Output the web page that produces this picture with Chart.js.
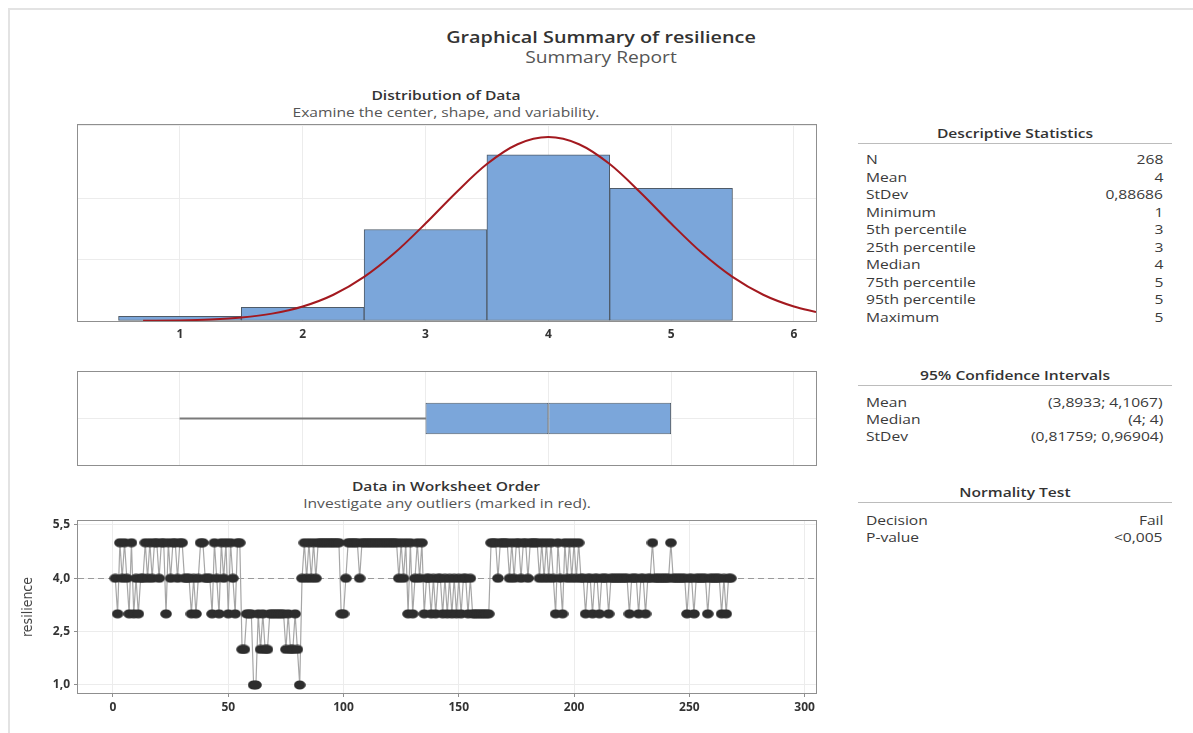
<!DOCTYPE html>
<html>
<head>
<meta charset="utf-8">
<script src="https://cdn.jsdelivr.net/npm/chart.js@4.4.0/dist/chart.umd.min.js"></script>
<style>
body { margin: 0; background: #fff; font-family: 'Open Sans', 'Noto Sans', sans-serif; color: #333; }
#page { position: relative; width: 1193px; height: 733px; overflow: hidden; background: #fff; }
.pageFrame { position: absolute; left: 8px; top: 8px; width: 1200px; height: 740px; border-left: 2px solid #e3e3e3; border-top: 2px solid #e3e3e3; }
.t { position: absolute; white-space: nowrap; transform: translate(-50%, -50%) scaleX(1.2); }
.box { position: absolute; left: 0; }
.tblHead { position: absolute; left: 858px; width: 314px; text-align: center; font-weight: 600; font-size: 13px; height: 18px; line-height: 18px; color: #333; transform: scaleX(1.2); }
.tblLine { position: absolute; left: 858px; width: 314px; border-top: 1px solid #bcbcbc; }
.tblRow { position: absolute; left: 866px; width: 297px; font-size: 13px; color: #3a3a3a; }
.tblRow span.l { display: inline-block; transform: scaleX(1.2); transform-origin: left center; }
.tblRow span.v { float: right; display: inline-block; transform: scaleX(1.2); transform-origin: right center; }
</style>
</head>
<body>
<div id="page">
	<div class="pageFrame"></div>

	<div class="t" style="left:601px;top:36px;font-size:16.5px;font-weight:600;color:#333;">Graphical Summary of resilience</div>
	<div class="t" style="left:601px;top:57px;font-size:16px;color:#555;">Summary Report</div>

	<div class="t" style="left:446px;top:95px;font-size:13px;font-weight:600;color:#333;">Distribution of Data</div>
	<div class="t" style="left:446px;top:112px;font-size:13px;color:#555;">Examine the center, shape, and variability.</div>

	<div class="t" style="left:446px;top:486px;font-size:13px;font-weight:600;color:#333;">Data in Worksheet Order</div>
	<div class="t" style="left:447px;top:503px;font-size:13px;color:#555;">Investigate any outliers (marked in red).</div>

	<div class="box" style="top:124px;"><canvas id="hist" width="822" height="219"></canvas></div>
	<div class="box" style="top:371px;"><canvas id="boxplot" width="822" height="95"></canvas></div>
	<div class="box" style="top:508px;"><canvas id="order" width="822" height="210"></canvas></div>

	<div id="tables"></div>
</div>

<script>
// values
var resilience = [
	4, 3, 5, 4, 5, 4, 3, 5, 3, 4,
	3, 4, 4, 5, 4, 5, 4, 5, 5, 4,
	5, 5, 3, 5, 4, 5, 5, 4, 5, 5,
	4, 4, 4, 3, 4, 3, 4, 5, 5, 4,
	4, 4, 3, 5, 4, 3, 5, 4, 5, 3,
	5, 4, 3, 5, 5, 2, 2, 3, 3, 3,
	1, 1, 3, 2, 3, 2, 2, 3, 3, 3,
	3, 3, 3, 3, 2, 3, 2, 2, 3, 2,
	1, 4, 5, 4, 5, 4, 5, 4, 5, 5,
	5, 5, 5, 5, 5, 5, 5, 5, 3, 3,
	4, 5, 5, 5, 5, 5, 4, 5, 5, 5,
	5, 5, 5, 5, 5, 5, 5, 5, 5, 5,
	5, 5, 5, 4, 5, 4, 5, 3, 5, 3,
	4, 5, 4, 5, 3, 4, 4, 3, 4, 3,
	4, 4, 3, 4, 3, 4, 3, 4, 3, 4,
	3, 4, 4, 3, 4, 3, 3, 3, 3, 3,
	3, 3, 3, 5, 5, 5, 4, 5, 5, 5,
	5, 4, 5, 4, 5, 5, 4, 5, 5, 4,
	5, 5, 5, 5, 4, 5, 4, 5, 4, 5,
	4, 3, 5, 4, 3, 5, 4, 5, 4, 5,
	4, 5, 4, 4, 3, 4, 4, 3, 4, 4,
	3, 4, 4, 4, 3, 4, 4, 4, 4, 4,
	4, 4, 4, 3, 4, 4, 4, 3, 4, 4,
	3, 4, 4, 5, 4, 4, 4, 4, 4, 4,
	4, 5, 4, 4, 4, 4, 4, 4, 3, 4,
	4, 3, 4, 4, 4, 4, 4, 3, 4, 4,
	4, 4, 4, 3, 4, 3, 4, 4
];

var histBins = [1, 2, 3, 4, 5];
var histCounts = [3, 9, 60, 109, 87];

// fitted normal curve
var normX = [0.7, 1, 1.25, 1.5, 1.75, 2, 2.25, 2.5, 2.75, 3, 3.25, 3.5, 3.75, 4, 4.25, 4.5, 4.75, 5, 5.25, 5.5, 5.75, 6, 6.18];
var normY = [0.12, 0.4, 0.99, 2.27, 4.83, 9.48, 17.2, 28.9, 44.7, 63.9, 84.3, 102.9, 115.9, 120.6, 115.9, 102.9, 84.3, 63.9, 44.7, 28.9, 17.2, 9.48, 5.88];

var boxStats = [1, 3, 4, 5, 5]; // min, q1, median, q3, max
var meanValue = 4;

var histTicks = [1, 2, 3, 4, 5, 6];
var orderXTicks = [0, 50, 100, 150, 200, 250, 300];
var orderYTicks = [1, 2.5, 4, 5.5];

var descLabels = ['N', 'Mean', 'StDev', 'Minimum', '5th percentile', '25th percentile', 'Median', '75th percentile', '95th percentile', 'Maximum'];
var descValues = ['268', '4', '0,88686', '1', '3', '3', '4', '5', '5', '5'];
var ciLabels = ['Mean', 'Median', 'StDev'];
var ciValues = ['(3,8933; 4,1067)', '(4; 4)', '(0,81759; 0,96904)'];
var normLabels = ['Decision', 'P-value'];
var normValues = ['Fail', '<0,005'];

Chart.defaults.font.family = "'Open Sans', 'Noto Sans', sans-serif";
Chart.defaults.color = '#333';

var gridColor = '#ececec';
var boxFill = '#7ba6da';
var boxEdge = '#4f5b68';

var framePlugin = {
	id: 'frame',
	afterDatasetsDraw: function (chart) {
		var a = chart.chartArea;
		var ctx = chart.ctx;
		ctx.save();
		ctx.strokeStyle = '#8f8f8f';
		ctx.lineWidth = 1;
		ctx.strokeRect(Math.round(a.left) - 0.5, Math.round(a.top) - 0.5,
			Math.round(a.right - a.left) + 1, Math.round(a.bottom - a.top) + 1);
		ctx.restore();
	}
};

var meanLinePlugin = {
	id: 'meanLine',
	beforeDatasetsDraw: function (chart) {
		var a = chart.chartArea;
		var y = Math.round(chart.scales.y.getPixelForValue(meanValue)) + 0.5;
		var ctx = chart.ctx;
		ctx.save();
		ctx.strokeStyle = '#9a9a9a';
		ctx.lineWidth = 1;
		ctx.setLineDash([6, 4]);
		ctx.beginPath();
		ctx.moveTo(a.left, y);
		ctx.lineTo(a.right, y);
		ctx.stroke();
		ctx.restore();
	}
};

function setTicks(list) {
	return function (scale) {
		scale.ticks = list.map(function (v) { return { value: v }; });
	};
}

// histogram
new Chart(document.getElementById('hist').getContext('2d'), {
	type: 'bar',
	data: {
		datasets: [{
			type: 'line',
			data: normX.map(function (x, i) { return { x: x, y: normY[i] }; }),
			borderColor: '#a3191f',
			borderWidth: 2,
			pointRadius: 0,
			cubicInterpolationMode: 'monotone',
			fill: false
		}, {
			type: 'bar',
			data: histBins.map(function (b, i) { return { x: b, y: histCounts[i] }; }),
			backgroundColor: boxFill,
			borderColor: boxEdge,
			borderWidth: 1,
			borderSkipped: false,
			barPercentage: 1,
			categoryPercentage: 1
		}]
	},
	options: {
		responsive: false,
		animation: false,
		layout: { padding: { top: 1, right: 6 } },
		plugins: { legend: { display: false }, tooltip: { enabled: false } },
		scales: {
			x: {
				type: 'linear', min: 0.17, max: 6.18, offset: false,
				grid: { offset: false, color: gridColor, drawTicks: false },
				border: { display: false },
				ticks: { padding: 6, color: '#333', font: { size: 12, weight: 'bold' } },
				afterBuildTicks: setTicks(histTicks),
				afterFit: function (s) { s.height = 22; }
			},
			y: {
				min: 0, max: 128.5,
				ticks: { display: false, stepSize: 40 },
				grid: { color: gridColor, drawTicks: false },
				border: { display: false },
				afterFit: function (s) { s.width = 78; }
			}
		}
	},
	plugins: [framePlugin]
});

// boxplot
new Chart(document.getElementById('boxplot').getContext('2d'), {
	type: 'bar',
	data: {
		labels: ['resilience'],
		datasets: [{
			data: [[boxStats[1], boxStats[2]]],
			backgroundColor: boxFill, borderColor: boxEdge, borderWidth: 1, borderSkipped: false,
			grouped: false, categoryPercentage: 1, barPercentage: 0.34
		}, {
			data: [[boxStats[2], boxStats[3]]],
			backgroundColor: boxFill, borderColor: boxEdge, borderWidth: 1, borderSkipped: false,
			grouped: false, categoryPercentage: 1, barPercentage: 0.34
		}, {
			data: [[boxStats[0], boxStats[1]]],
			backgroundColor: '#7a7a7a', borderWidth: 0,
			grouped: false, barThickness: 1.5
		}]
	},
	options: {
		indexAxis: 'y',
		responsive: false,
		animation: false,
		layout: { padding: { top: 1, bottom: 1, right: 6 } },
		plugins: { legend: { display: false }, tooltip: { enabled: false } },
		scales: {
			x: {
				type: 'linear', min: 0.17, max: 6.18, offset: false,
				grid: { offset: false, color: gridColor, drawTicks: false },
				border: { display: false },
				ticks: { display: false },
				afterBuildTicks: setTicks(histTicks),
				afterFit: function (s) { s.height = 0; }
			},
			y: {
				grid: { offset: false, color: gridColor, drawTicks: false },
				border: { display: false },
				ticks: { display: false },
				afterFit: function (s) { s.width = 78; }
			}
		}
	},
	plugins: [framePlugin]
});

// worksheet order
var dot = document.createElement('canvas');
dot.width = 12;
dot.height = 10;
var dctx = dot.getContext('2d');
dctx.fillStyle = '#2d2d2d';
dctx.beginPath();
dctx.ellipse(6, 5, 5.8, 4.6, 0, 0, Math.PI * 2);
dctx.fill();

new Chart(document.getElementById('order').getContext('2d'), {
	type: 'line',
	data: {
		datasets: [{
			data: resilience.map(function (v, i) { return { x: i + 1, y: v }; }),
			borderColor: '#a6a6a6',
			borderWidth: 1.2,
			pointStyle: dot,
			pointRadius: 5,
			tension: 0,
			fill: false
		}]
	},
	options: {
		responsive: false,
		animation: false,
		layout: { padding: { top: 13, right: 6 } },
		plugins: { legend: { display: false }, tooltip: { enabled: false } },
		scales: {
			x: {
				type: 'linear', min: -15.18, max: 304.86,
				grid: { color: gridColor, tickColor: '#8f8f8f', tickLength: 4 },
				border: { display: false },
				ticks: { padding: 3, color: '#333', font: { size: 12, weight: 'bold' } },
				afterBuildTicks: setTicks(orderXTicks),
				afterFit: function (s) { s.height = 25; }
			},
			y: {
				min: 0.775, max: 5.61,
				grid: { color: gridColor, tickColor: '#8f8f8f', tickLength: 4 },
				border: { display: false },
				ticks: {
					padding: 4, color: '#333', font: { size: 12, weight: 'bold' },
					callback: function (v) { return v.toFixed(1).replace('.', ','); }
				},
				title: {
					display: true, text: 'resilience', color: '#444',
					font: { family: "'Liberation Sans Narrow', 'DejaVu Sans Condensed', 'Open Sans', sans-serif", size: 14, weight: 'normal' },
					padding: { top: 20, bottom: 0 }
				},
				afterBuildTicks: setTicks(orderYTicks),
				afterFit: function (s) {
					s.width = 78;
					s.paddingTop = 0;
					s.paddingBottom = 0;
				}
			}
		}
	},
	plugins: [meanLinePlugin, framePlugin]
});

// tables on the right
function addTable(title, headY, lineY, firstY, step, labels, values) {
	var html = '';
	html += '<div class="tblHead" style="top:' + (headY - 9) + 'px">' + title + '</div>';
	html += '<div class="tblLine" style="top:' + lineY + 'px"></div>';
	for (var i = 0; i < labels.length; i++) {
		var top = firstY + i * step - step / 2;
		html += '<div class="tblRow" style="top:' + top + 'px;height:' + step + 'px;line-height:' + step + 'px">' +
			'<span class="l">' + labels[i] + '</span><span class="v">' + values[i].replace('<', '&lt;') + '</span></div>';
	}
	document.getElementById('tables').insertAdjacentHTML('beforeend', html);
}

addTable('Descriptive Statistics', 133, 143, 160, 17.5, descLabels, descValues);
addTable('95% Confidence Intervals', 375, 385, 402, 17, ciLabels, ciValues);
addTable('Normality Test', 492, 502, 520, 17, normLabels, normValues);
</script>
</body>
</html>
